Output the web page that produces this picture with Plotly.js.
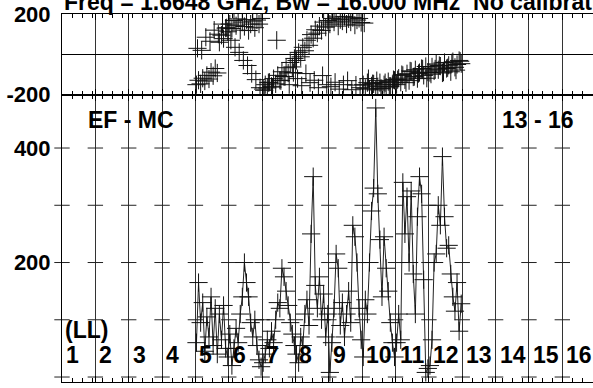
<!DOCTYPE html>
<html><head><meta charset="utf-8">
<script src="https://cdn.plot.ly/plotly-3.0.1.min.js"></script>
<style>html,body{margin:0;padding:0;background:#fff;overflow:hidden}</style>
</head><body><div id="chart" style="width:593px;height:388px"></div>
<script>
// IF numbers shown along the x axis
const ifLabels = ["1","2","3","4","5","6","7","8","9","10","11","12","13","14","15","16"];
// IFs that carry data
const dataIFs = [5,6,7,8,9,10,11,12];
// Amplitude per channel (16 channels per IF), IF 5..12
const amp5  = [60,165,95,130,45,105,70,140,55,120,40,110,65,125,50,35];
const amp6  = [75,20,50,85,60,110,140,200,165,140,95,70,100,55,30,18];
const amp7  = [25,40,65,50,80,60,100,130,120,190,175,150,125,95,75,55];
const amp8  = [40,25,70,55,110,135,90,250,350,160,120,175,100,145,70,110];
const amp9  = [8,60,120,215,190,90,130,70,110,150,95,265,245,200,120,65];
const amp10 = [35,135,110,200,290,330,470,320,240,140,245,190,150,95,60,35];
const amp11 = [60,110,65,340,250,315,200,325,180,110,280,350,320,170,8,15];
const amp12 = [20,65,200,215,300,265,385,280,225,230,180,140,115,165,80,128];
// Phase, main track (16 channels per IF), degrees
const phA5  = [-150,-128,-146,-118,-132,-104,-122,-88,-106,-70,-92,60,95,78,130,112];
const phA6  = [150,128,168,142,176,120,160,138,172,118,150,165,132,170,150,178];
const phA7  = [-172,-150,-166,-138,-158,-120,-146,-104,-128,-86,-110,-66,-92,-40,-62,-20];
const phA8  = [-30,10,-12,35,18,70,45,98,80,122,105,140,118,160,135,168];
const phA9  = [150,178,160,185,140,172,165,188,150,176,160,182,145,170,178,158];
const phA10 = [-150,-168,-140,-172,-156,-146,-176,-160,-140,-170,-150,-162,-135,-158,-148,-128];
const phA11 = [-150,-118,-138,-104,-126,-96,-130,-84,-112,-76,-120,-90,-70,-104,-60,-88];
const phA12 = [-90,-62,-82,-48,-76,-58,-92,-40,-70,-54,-86,-36,-64,-50,-30,-46];
// Phase, second track (8 channels per IF)
const phB5  = [30,20,85,65,120,100,150,132];
const phB6  = [70,35,10,-30,-55,-95,-125,-165];
const phB7  = [-178,-140,-162,70,-130,-110,-150,-90];
const phB8  = [-120,-155,-95,-140,-128,-165,-105,-150];
const phB9  = [-160,-138,-172,-150,-130,-175,-152,-165];
const phB10 = [155,-120,-145,-130,-168,-140,-158,-125];
const phB11 = [-125,-100,-140,-82,-110,-95,-72,-118];
const phB12 = [-98,-72,-55,-88,-66,-42,-78,-34];
// Axis ticks
const phaseTicks = [-200, 200];
const ampTicks = [0, 200, 400];
const ampMarks = [0, 100, 200, 300, 400];

const amps = [amp5,amp6,amp7,amp8,amp9,amp10,amp11,amp12];
const phAs = [phA5,phA6,phA7,phA8,phA9,phA10,phA11,phA12];
const phBs = [phB5,phB6,phB7,phB8,phB9,phB10,phB11,phB12];

function chanX(ifNum, c, n){ return (ifNum-1) + (c+0.5)/n; }
function build(list){
  const xs=[], ys=[];
  list.forEach((arr,k)=>{ arr.forEach((v,c)=>{ xs.push(chanX(dataIFs[k],c,arr.length)); ys.push(v); }); });
  return {xs, ys};
}
const A = build(amps), PA = build(phAs), PB = build(phBs);

// grid cross marks at every IF boundary and every 100 in amplitude
const gx=[], gy=[];
for(let i=0;i<ifLabels.length;i++){ ampMarks.forEach(v=>{gx.push(i); gy.push(v);}); }

const FONT = "Liberation Sans, Arial, Helvetica, sans-serif";
const cross = {symbol:'cross-thin-open', size:13, line:{width:1, color:'#111'}, color:'#111'};

const traces = [
  {x:gx, y:gy, xaxis:'x2', yaxis:'y2', mode:'markers', hoverinfo:'skip', cliponaxis:false,
   marker:{symbol:'line-ew-open', size:11, color:'#222', line:{width:1, color:'#222'}}},
  {x:A.xs, y:A.ys, xaxis:'x2', yaxis:'y2', mode:'lines+markers',
   line:{color:'#222', width:1}, marker:cross},
  {x:PA.xs, y:PA.ys, xaxis:'x', yaxis:'y', mode:'markers', marker:cross},
  {x:PB.xs, y:PB.ys, xaxis:'x', yaxis:'y', mode:'markers', marker:cross}
];

const ifTickVals = ifLabels.map((s,i)=>i);
const xBase = {
  range:[0, 15.92], tickvals:ifTickVals, ticks:'inside', ticklen:6, tickcolor:'#000',
  showticklabels:false, showgrid:true, gridcolor:'#333', gridwidth:1,
  showline:true, linecolor:'#000', linewidth:1, mirror:'ticks', zeroline:false,
  minor:{dtick:0.3, tick0:0, ticks:'inside', ticklen:4, tickcolor:'#000', showgrid:false}
};
const tickFont = {family:FONT, size:22, color:'#000', weight:'bold'};
const labFont = {family:FONT, size:23, color:'#000', weight:'bold'};

const annotations = [
  {text:'Freq = 1.6648 GHz, Bw = 16.000 MHz  No calibration', xref:'paper', yref:'paper',
   x:0, y:1, xanchor:'left', yanchor:'bottom', yshift:-3, showarrow:false,
   font:{family:FONT, size:23, color:'#000', weight:'bold'}},
  {text:'EF - MC', xref:'x2', yref:'y2', x:0.71, y:449, xanchor:'left', yanchor:'middle', showarrow:false, font:labFont},
  {text:'13 - 16', xref:'x2', yref:'y2', x:13.13, y:449, xanchor:'left', yanchor:'middle', showarrow:false, font:labFont},
  {text:'(LL)', xref:'x2', yref:'y2', x:0.02, y:83, xanchor:'left', yanchor:'middle', showarrow:false, font:labFont}
];
ifLabels.forEach((s,i)=>{
  annotations.push({text:s, xref:'x2', yref:'y2', x:i+0.06, y:39, xanchor:'left', yanchor:'middle',
    showarrow:false, font:labFont});
});

const layout = {
  width:593, height:388, margin:{l:62, r:0, t:14, b:6},
  paper_bgcolor:'#fff', plot_bgcolor:'#fff', showlegend:false,
  xaxis: Object.assign({}, xBase, {anchor:'y', domain:[0,1]}),
  xaxis2: Object.assign({}, xBase, {anchor:'y2', domain:[0,1], matches:'x'}),
  yaxis: {domain:[0.7805,1], range:[-200,200], tickvals:phaseTicks, ticktext:phaseTicks.map(String),
    ticks:'', showgrid:false, zeroline:true, zerolinecolor:'#000', zerolinewidth:1,
    showline:true, linecolor:'#000', tickfont:tickFont, ticklabelstandoff:6},
  yaxis2: {domain:[0,0.7805], range:[-8.7,493], tickvals:ampTicks, ticktext:ampTicks.map(String),
    ticks:'', showgrid:false, zeroline:false,
    showline:true, linecolor:'#000', tickfont:tickFont, ticklabelstandoff:6},
  annotations: annotations
};

Plotly.newPlot('chart', traces, layout, {staticPlot:true, displayModeBar:false});
</script></body></html>
